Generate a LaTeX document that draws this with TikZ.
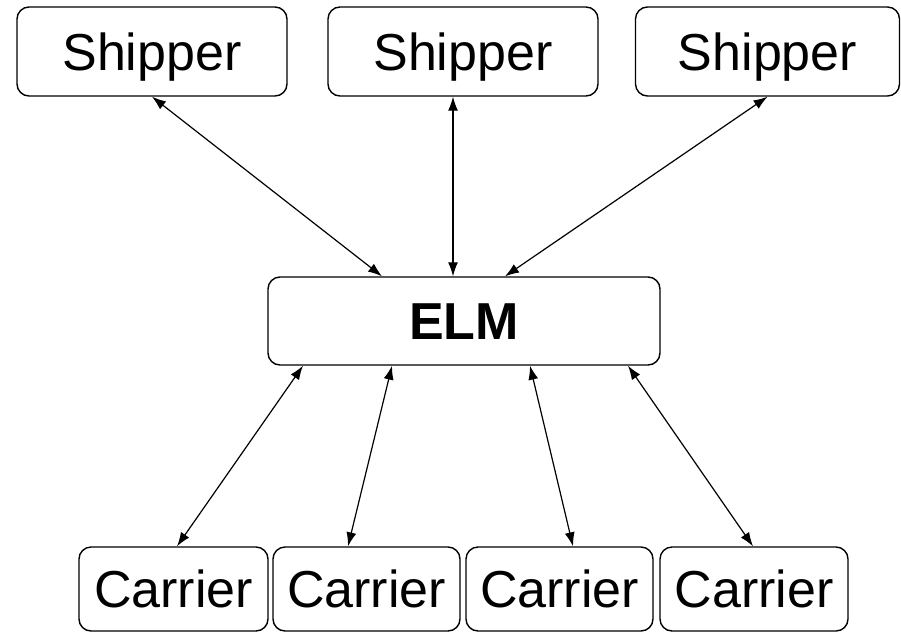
\documentclass[tikz,border=0pt]{standalone}
\usepackage{fontspec}
\setmainfont{Liberation Sans}
\usetikzlibrary{arrows.meta}

\tikzset{
	party/.style = {draw, line width = 1.4pt, rounded corners = 12pt,
		inner sep = 0pt, text height = 37pt, text depth = 0pt,
		font = \fontsize{52}{60}\selectfont},
	link/.style = {line width = 1.2pt, {Latex[length = 14pt, width = 10pt]}-{Latex[length = 14pt, width = 10pt]}}
}

\begin{document}
\begin{tikzpicture}[x = 1pt, y = -1pt]

	\useasboundingbox (0, 0) rectangle (901, 632);

	% Shippers on top
	
	\node [party, minimum width = 270pt, minimum height = 89pt] (shipperA) at (152, 51.5) {Shipper};
	\node [party, minimum width = 270pt, minimum height = 89pt] (shipperB) at (463, 51.5) {Shipper};
	\node [party, minimum width = 264pt, minimum height = 89pt] (shipperC) at (767.5, 51.5) {Shipper};
	
	% The exchange in the middle
	
	\node [party, minimum width = 392pt, minimum height = 88pt, font = \fontsize{52}{60}\selectfont\bfseries] (elm) at (464, 321) {ELM};
	
	% Carriers at the bottom
	
	\node [party, minimum width = 189pt, minimum height = 84pt] (carrierA) at (173.5, 589) {Carrier};
	\node [party, minimum width = 187pt, minimum height = 84pt] (carrierB) at (366.5, 589) {Carrier};
	\node [party, minimum width = 187pt, minimum height = 84pt] (carrierC) at (559.5, 589) {Carrier};
	\node [party, minimum width = 188pt, minimum height = 84pt] (carrierD) at (754, 589) {Carrier};
	
	% Links between shippers and ELM
	
	\draw [link] (shipperA.south) -- ([xshift = -82pt] elm.north);
	\draw [link] ([xshift = -10pt] shipperB.south) -- ([xshift = -11pt] elm.north);
	\draw [link] (shipperC.south) -- ([xshift = 41pt] elm.north);
	
	% Links between ELM and carriers
	
	\draw [link] ([xshift = -161pt] elm.south) -- ([xshift = 3.5pt] carrierA.north);
	\draw [link] ([xshift = -72pt] elm.south) -- ([xshift = -18.5pt] carrierB.north);
	\draw [link] ([xshift = 66pt] elm.south) -- ([xshift = 13.5pt] carrierC.north);
	\draw [link] ([xshift = 164pt] elm.south) -- ([xshift = -1pt] carrierD.north);

\end{tikzpicture}
\end{document}
